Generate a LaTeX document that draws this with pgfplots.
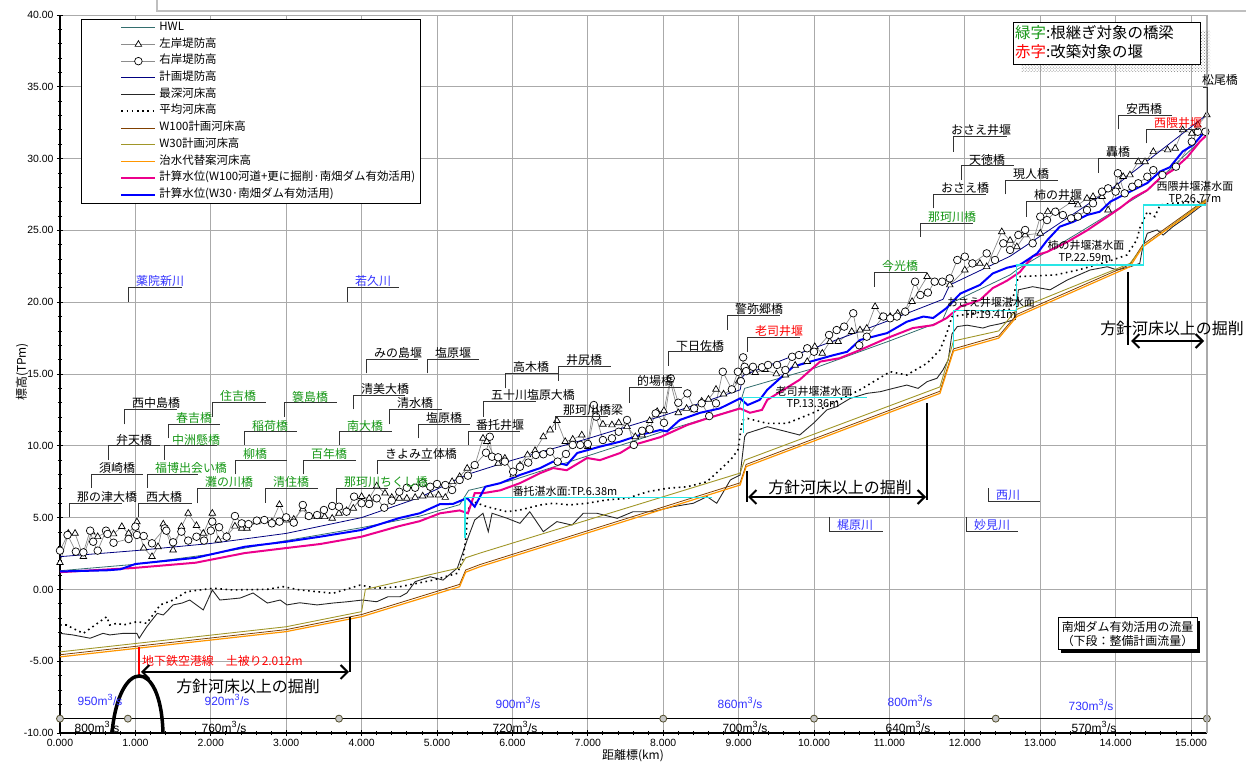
\documentclass[border=0pt]{standalone}
\usepackage{fontspec}
\setmainfont{Liberation Sans}
\newfontfamily\jp{Noto Sans CJK JP}
\usepackage{pgfplots}
\pgfplotsset{compat=1.18}
\usetikzlibrary{arrows.meta,patterns}
\definecolor{hwl}{RGB}{51,110,110}
\definecolor{navyc}{RGB}{0,0,128}
\definecolor{brownc}{RGB}{128,64,0}
\definecolor{olivec}{RGB}{160,150,40}
\definecolor{orangec}{RGB}{255,150,0}
\definecolor{cyanc}{RGB}{40,230,230}
\definecolor{greent}{RGB}{20,150,20}
\definecolor{bluet}{RGB}{50,50,255}
\definecolor{gridc}{RGB}{170,170,170}
\definecolor{bankc}{RGB}{140,140,140}
\newcommand{\blab}[7][8]{%
  \draw[black!80, line width=0.9] (#2,#5) -- (#2,#4) -- (#3,#4);
  \node[anchor=south west, inner sep=0pt, text=#6, font=\jp\fontsize{12}{12}\selectfont] at (#2+#1,#4-0.5) {#7};
}
\newcommand{\qlab}[4]{\node[text=#3, font=\fontsize{12}{12}\selectfont, inner sep=0pt] at (#1,#2) {#4m\textsuperscript{\fontsize{9}{9}\selectfont 3}/s};}
\begin{document}
\begin{tikzpicture}
\begin{axis}[
  scale only axis, width=1147bp, height=718bp,
  xmin=0, xmax=15.212, ymin=-10, ymax=40,
  clip=false,
  axis x line*=bottom, axis y line*=left,
  axis line style={black, line width=1.2bp},
  xtick={0,1,...,15}, ytick={-10,-5,...,40},
  minor x tick num=4, minor y tick num=4,
  tick align=center, major tick length=6bp, minor tick length=4bp,
  tick style={black, line width=0.8bp},
  grid=major, major grid style={gridc, line width=0.9bp},
  /pgf/number format/assume math mode=true,
  x tick label style={/pgf/number format/.cd, fixed, fixed zerofill, precision=3, /tikz/.cd, font=\fontsize{10.5}{12}\selectfont},
  y tick label style={/pgf/number format/.cd, fixed, fixed zerofill, precision=2, /tikz/.cd, font=\fontsize{10.5}{12}\selectfont},
  legend cell align=left,
  legend style={at={(axis description cs:0.0183,0.9944)}, anchor=north west,
    draw=black, line width=0.8bp, fill=white, inner xsep=2bp, inner ysep=0bp,
    font=\jp\fontsize{11.5}{11.5}\selectfont, row sep=0pt,
    nodes={inner ysep=0pt, inner xsep=3bp, text height=11bp, text depth=5.7bp}},
  legend image code/.code={\path (-37bp,0bp) (34bp,0bp);
    \draw[mark repeat=2,mark phase=2,#1] plot coordinates {(0bp,0bp) (17bp,0bp) (34bp,0bp)};},
]
% HWL
\addplot[hwl, line width=0.8bp] coordinates {
(0,1.30) (1,1.75) (2,2.45) (3,3.40) (4,4.30) (4.77,5.10) (5.3,5.9) (5.42,6.9) (6,7.6) (7,9.3) (8,11.0) (9.0,12.6) (9.08,14.0) (10,15.4) (11,17.3) (11.7,18.7) (11.8,19.9) (12.6,21.9) (12.7,22.3) (13.5,24.8) (14.4,27.7) (15.22,31.7)};
\addlegendentry{HWL}
% left bank
\addplot[bankc, line width=0.7bp, mark=triangle*, mark size=3.8bp, mark options={fill=white, draw=black, line width=0.7bp, solid}] coordinates {
(0.00,1.86) (0.11,3.90) (0.20,3.90) (0.31,2.28) (0.42,4.00) (0.50,3.67) (0.62,4.00) (0.71,3.86) (0.82,4.37) (0.91,3.90)
(1.02,4.70) (1.11,2.88) (1.22,2.28) (1.30,2.97) (1.37,4.55) (1.50,2.74) (1.61,4.37) (1.70,5.30) (1.81,4.44) (1.90,3.90)
(2.02,5.30) (2.10,3.44) (2.21,3.70) (2.32,4.40) (2.41,4.25) (2.48,4.25) (2.61,4.70) (2.71,4.80) (2.81,4.70) (2.91,5.90)
(3.00,4.83) (3.10,4.88) (3.22,5.60) (3.30,5.06) (3.41,5.06) (3.51,5.06) (3.61,4.95) (3.70,5.30) (3.80,5.48) (3.89,5.65)
(4.00,6.46) (4.10,6.34) (4.20,7.20) (4.31,6.70) (4.40,6.40) (4.50,6.34) (4.60,6.34) (4.71,6.40) (4.81,6.50) (4.91,6.57)
(5.02,6.57) (5.11,6.40) (5.20,7.50) (5.30,7.85) (5.40,8.43) (5.50,8.60) (5.61,10.52) (5.66,10.29) (5.81,8.78) (5.90,9.13)
(6.01,7.97) (6.10,8.66) (6.20,9.36) (6.30,9.66) (6.41,10.63) (6.50,11.10) (6.59,11.75) (6.70,10.29) (6.80,10.45) (6.92,10.75)
(7.00,9.94) (7.10,12.50) (7.20,11.50) (7.32,11.45) (7.41,11.60) (7.52,11.33) (7.63,10.63) (7.72,10.75) (7.82,11.75) (7.92,12.38)
(8.01,12.44) (8.09,14.58) (8.20,12.30) (8.31,12.60) (8.41,12.50) (8.51,13.10) (8.60,13.24) (8.70,13.93) (8.80,13.60) (8.91,13.90)
(9.00,14.50) (9.11,15.16) (9.22,15.10) (9.35,15.30) (9.50,15.00) (9.62,14.93) (9.75,15.60) (9.91,15.86) (10.01,16.90) (10.11,16.44)
(10.21,17.25) (10.32,17.25) (10.50,17.95) (10.61,18.06) (10.70,18.18) (10.81,19.69) (10.90,19.00) (11.01,19.00) (11.11,19.23) (11.21,19.34)
(11.30,20.04) (11.50,21.78) (11.80,21.20) (12.00,22.24) (12.11,22.70) (12.20,22.70) (12.29,22.47) (12.49,24.90) (12.60,24.30) (12.69,23.86)
(12.80,24.68) (13.00,24.80) (13.10,26.30) (13.22,26.30) (13.42,27.00) (13.50,26.77) (13.62,27.23) (13.70,27.35) (13.82,27.35) (13.90,26.42)
(14.02,28.04) (14.10,28.74) (14.19,28.86) (14.30,29.78) (14.39,29.78) (14.50,30.48) (14.69,30.60) (14.79,30.72) (14.89,32.00) (15.01,31.76)
(15.09,32.34) (15.21,33.04)};
\addlegendentry{左岸堤防高}
% right bank
\addplot[bankc, line width=0.7bp, mark=*, mark size=3.8bp, mark options={fill=white, draw=black, line width=0.7bp, solid}] coordinates {
(0.00,2.70) (0.10,3.79) (0.21,2.63) (0.31,2.58) (0.40,4.09) (0.44,3.32) (0.50,2.70) (0.61,4.09) (0.63,3.86) (0.71,3.25)
(0.91,3.51) (1.00,4.37) (1.02,3.79) (1.11,3.72) (1.22,3.21) (1.39,4.25) (1.41,4.09) (1.50,3.28) (1.61,4.02) (1.70,3.40)
(1.81,3.67) (1.91,3.40) (2.00,4.09) (2.02,4.72) (2.11,4.33) (2.21,3.67) (2.32,5.11) (2.41,4.60) (2.50,4.55) (2.61,4.79)
(2.71,4.83) (2.81,4.60) (2.91,4.72) (3.00,5.02) (3.10,4.65) (3.22,5.88) (3.30,5.11) (3.41,5.18) (3.50,5.53) (3.61,5.81)
(3.70,5.76) (3.80,5.41) (3.90,6.46) (4.00,6.00) (4.10,5.95) (4.20,6.34) (4.30,5.69) (4.40,6.18) (4.50,6.80) (4.60,7.08)
(4.71,7.08) (4.81,7.39) (4.91,7.15) (5.00,7.34) (5.11,7.27) (5.20,6.92) (5.30,7.62) (5.41,7.92) (5.50,8.66) (5.65,9.52)
(5.70,10.63) (5.73,9.24) (5.81,9.20) (5.90,8.90) (6.01,8.20) (6.10,8.54) (6.21,8.83) (6.31,9.36) (6.41,9.41) (6.50,9.59)
(6.60,8.90) (6.71,9.43) (6.80,10.06) (6.90,10.06) (7.00,10.13) (7.08,12.84) (7.11,12.03) (7.20,10.40) (7.32,10.52) (7.41,10.98)
(7.52,11.80) (7.61,10.06) (7.72,11.05) (7.82,11.15) (7.90,12.26) (8.01,11.60) (8.10,14.70) (8.20,13.00) (8.32,13.65) (8.41,12.60)
(8.51,12.96) (8.61,12.07) (8.70,12.96) (8.79,15.16) (8.91,13.93) (8.99,15.16) (9.03,14.50) (9.06,16.16) (9.08,15.50) (9.10,15.20)
(9.19,15.50) (9.31,15.47) (9.39,15.63) (9.51,15.63) (9.62,15.28) (9.71,16.20) (9.80,16.32) (9.91,16.79) (10.00,16.55) (10.20,17.72)
(10.30,18.06) (10.40,18.30) (10.52,19.23) (10.60,17.00) (10.70,17.60) (10.92,19.00) (11.01,18.88) (11.10,19.00) (11.21,19.34) (11.34,21.43)
(11.41,20.50) (11.51,20.67) (11.60,21.43) (11.70,21.43) (11.80,21.66) (11.90,22.94) (12.00,23.17) (12.10,22.70) (12.29,23.40) (12.40,22.94)
(12.51,24.10) (12.60,23.64) (12.71,24.68) (12.80,25.03) (12.90,24.10) (13.00,25.96) (13.09,25.72) (13.20,26.30) (13.30,26.07) (13.41,25.84)
(13.50,25.96) (13.62,26.42) (13.70,26.89) (13.82,27.70) (13.90,27.93) (14.00,27.70) (14.03,28.98) (14.12,27.58) (14.22,28.04) (14.30,28.28)
(14.42,28.74) (14.50,29.20) (14.62,28.86) (14.80,29.44) (15.01,31.18) (15.09,31.87) (15.19,31.87)};
\addlegendentry{右岸堤防高}
% planned levee
\addplot[navyc, line width=0.8bp] coordinates {
(0,2.28) (1,2.70) (2,3.20) (3,3.90) (4,5.00) (4.77,6.40) (5.4,8.0) (6,9.0) (7,10.5) (8,12.1) (9.02,13.9) (9.06,14.9) (9.81,16.44) (10.88,18.5) (11.71,20.2) (11.8,21.2) (12.6,23.2) (13.97,28.0) (15.22,33.1)};
\addlegendentry{計画堤防高}
% deepest bed
\addplot[black!85, line width=0.9bp] coordinates {
(0,-3.06) (0.17,-3.17) (0.40,-3.40) (0.57,-3.06) (0.66,-3.17) (0.84,-3.06) (1.02,-3.06) (1.05,-3.40) (1.15,-2.60) (1.29,-1.67)
(1.37,-1.78) (1.50,-1.08) (1.62,-0.95) (1.72,-0.74) (1.90,-1.43) (2.02,-0.04) (2.12,-0.74) (2.39,-0.60) (2.56,-0.25) (2.75,-0.95)
(2.92,-0.74) (3.01,-1.08) (3.18,-0.93) (3.41,-1.08) (3.62,-0.95) (3.81,-0.86) (4.01,-0.74) (4.20,-0.86) (4.35,-0.51) (4.51,-0.51)
(4.60,-0.25) (4.71,0.54) (4.91,0.88) (5.08,0.65) (5.27,1.49) (5.34,2.53) (5.40,3.44) (5.50,4.83) (5.61,5.30) (5.68,4.02)
(5.73,5.30) (5.93,4.95) (6.10,4.60) (6.23,5.41) (6.41,4.02) (6.59,4.72) (6.79,4.48) (6.94,5.30) (7.12,5.30) (7.39,4.95)
(7.60,5.41) (7.86,5.41) (8.13,5.76) (8.40,6.00) (8.58,6.46) (8.71,6.00) (8.89,7.62) (9.02,7.97) (9.08,10.63) (9.11,10.87)
(9.38,11.33) (9.55,11.10) (9.81,10.75) (9.99,11.56) (10.17,12.50) (10.30,12.73) (10.48,13.30) (10.70,13.65) (10.88,13.77) (11.05,14.00)
(11.23,14.23) (11.38,14.00) (11.50,14.47) (11.63,14.70) (11.71,15.28) (11.78,15.98) (11.83,17.80) (11.90,18.30) (12.03,18.40) (12.24,18.20)
(12.33,18.35) (12.47,18.50) (12.60,18.70) (12.67,18.80) (12.71,20.86) (12.90,21.08) (13.13,20.86) (13.36,21.55) (13.66,22.24) (13.89,22.47)
(14.02,22.24) (14.19,22.47) (14.32,22.70) (14.36,23.86) (14.42,24.80) (14.55,25.03) (14.63,24.68) (14.76,25.26) (14.95,25.96) (15.12,26.65) (15.22,27.00)};
\addlegendentry{最深河床高}
% mean bed
\addplot[black, line width=1.6bp, dash pattern=on 1.6bp off 3.6bp] coordinates {
(0,-2.48) (0.09,-2.48) (0.17,-2.71) (0.31,-3.06) (0.62,-1.90) (0.66,-2.48) (0.76,-2.36) (0.84,-2.48) (1.02,-2.25) (1.15,-2.36)
(1.33,-1.08) (1.50,-0.74) (1.68,-0.16) (2.03,0.08) (2.29,-0.04) (2.75,0.01) (2.96,0.19) (3.18,-0.04) (3.62,-0.27) (3.98,0.30)
(4.20,0.08) (4.51,0.19) (4.95,0.65) (5.27,1.12) (5.34,2.05) (5.38,3.40) (5.41,5.53) (5.48,6.11) (5.66,5.76) (5.93,5.41)
(6.10,5.53) (6.37,5.88) (6.54,6.00) (6.76,5.88) (6.99,6.00) (7.25,6.23) (7.52,6.34) (7.79,6.80) (8.05,7.04) (8.32,7.15)
(8.58,7.50) (8.89,9.00) (8.99,9.70) (9.05,11.80) (9.12,11.90) (9.38,11.56) (9.64,11.56) (9.99,12.30) (10.61,13.90) (11.01,15.16)
(11.23,14.93) (11.50,15.75) (11.67,16.67) (11.76,17.83) (11.83,19.00) (12.20,19.30) (12.60,19.50) (12.71,21.78) (13.20,21.90) (13.50,22.24)
(13.89,22.82) (14.15,23.29) (14.28,24.33) (14.32,25.15) (14.42,26.30) (14.52,25.96) (14.59,26.77) (14.76,26.89) (15.22,27.00)};
\addlegendentry{平均河床高}
% W100 planned bed
\addplot[brownc, line width=0.8bp] coordinates {
(0,-4.55) (3.0,-2.80) (4.0,-1.75) (5.3,0.35) (5.38,1.35) (5.57,1.73) (9.02,7.42) (9.10,8.70) (11.67,13.80) (11.85,16.75) (12.45,17.65) (12.69,19.15) (14.19,22.62) (14.36,24.01) (15.22,27.25)};
\addlegendentry{W100計画河床高}
% W30 planned bed
\addplot[olivec, line width=0.9bp] coordinates {
(0,-4.35) (3.0,-2.60) (4.0,-1.55) (4.05,0.0) (5.3,1.5) (5.38,2.2) (5.57,2.53) (9.02,8.1) (9.08,9.0) (11.67,14.1) (11.85,17.3) (12.45,18.0) (12.69,19.5) (14.19,22.7) (14.36,23.86) (15.22,27.2)};
\addlegendentry{W30計画河床高}
% alternative bed
\addplot[orangec, line width=1.2bp] coordinates {
(0,-4.70) (3.0,-2.94) (4.0,-1.90) (5.3,0.19) (5.38,1.20) (5.57,1.58) (9.02,7.27) (9.10,8.55) (11.67,13.65) (11.85,16.6) (12.45,17.5) (12.69,19.0) (14.19,22.47) (14.36,23.86) (15.22,27.1)};
\addlegendentry{治水代替案河床高}
% W100 computed WL
\addplot[magenta, line width=2bp] coordinates {
(0,1.20) (0.97,1.49) (1.8,1.86) (2.45,2.53) (3.0,2.88) (3.45,3.16) (4.0,3.67) (4.5,4.41) (4.77,4.75) (5.04,5.30)
(5.30,5.50) (5.41,5.30) (5.50,6.70) (5.61,6.70) (5.84,6.90) (6.10,7.40) (6.37,8.10) (6.54,8.45) (6.72,8.30) (6.99,9.15)
(7.16,9.00) (7.43,9.50) (7.60,10.05) (7.96,10.60) (8.32,11.45) (8.58,11.90) (9.02,12.60) (9.15,12.30) (9.31,12.50) (9.38,13.20)
(9.81,14.60) (10.08,15.86) (10.34,16.10) (10.61,16.67) (10.97,17.50) (11.31,18.20) (11.58,18.40) (11.76,18.90) (11.94,19.70) (12.20,20.15)
(12.37,20.98) (12.56,21.50) (12.73,22.10) (12.90,23.20) (13.09,23.50) (13.36,24.20) (13.62,25.00) (13.89,25.95) (14.06,26.56) (14.23,27.26)
(14.42,27.80) (14.59,28.65) (14.76,29.20) (14.95,30.10) (15.12,31.20) (15.22,31.70)};
\addlegendentry{計算水位(W100河道+更に掘削·南畑ダム有効活用)}
% W30 computed WL
\addplot[blue, line width=2bp] coordinates {
(0,1.25) (0.62,1.33) (0.80,1.40) (1.0,1.77) (1.8,2.20) (2.45,2.97) (3.0,3.32) (3.45,3.67) (4.0,4.14) (4.5,4.97)
(4.77,5.30) (5.04,5.94) (5.21,5.95) (5.40,6.36) (5.50,5.76) (5.64,7.15) (5.84,7.40) (6.10,7.97) (6.37,8.45) (6.54,8.90)
(6.72,8.66) (6.86,9.50) (7.16,9.94) (7.43,10.29) (7.69,10.75) (7.96,11.10) (8.05,11.00) (8.22,11.80) (8.49,12.30) (8.75,12.60)
(9.02,13.30) (9.12,12.84) (9.28,13.20) (9.38,13.90) (9.72,15.50) (9.95,15.86) (10.25,16.30) (10.44,16.55) (10.61,17.37) (10.97,17.85)
(11.23,18.64) (11.45,19.00) (11.58,18.90) (11.76,19.60) (11.94,20.60) (12.20,21.20) (12.37,22.00) (12.56,22.40) (12.73,22.60) (12.96,23.40)
(13.09,24.30) (13.26,25.26) (13.44,25.60) (13.62,26.07) (13.79,26.30) (13.93,27.00) (14.06,27.35) (14.23,27.80) (14.42,28.30) (14.59,29.10)
(14.72,29.40) (14.89,30.50) (15.03,30.95) (15.12,31.50) (15.22,32.10)};
\addlegendentry{計算水位(W30·南畑ダム有効活用)}
% ponded water surfaces
\addplot[cyanc, line width=1.2bp, forget plot] coordinates {(5.37,3.6) (5.37,6.38) (8.65,6.38)};
\addplot[cyanc, line width=1.2bp, forget plot] coordinates {(9.07,10.9) (9.07,13.36) (10.7,13.36)};
\addplot[cyanc, line width=1.2bp, forget plot] coordinates {(11.85,16.8) (11.85,19.41) (12.69,19.41) (12.69,22.59) (14.37,22.59) (14.37,26.77) (15.21,26.77)};
% discharge line
\addplot[black, line width=1bp, mark=*, mark size=3.5bp, mark options={fill=gray!45, draw=black!55!olive, line width=0.8bp}, forget plot] coordinates {
(0,-9) (0.9,-9) (3.7,-9) (8.0,-9) (10.0,-9) (12.41,-9) (15.21,-9)};
\end{axis}
\begin{scope}[x=1bp, y=-1bp, shift={(-60bp,733bp)}]
% frame right/top
\draw[gridc, line width=1.2bp] (1207,15) -- (1207,733);
\draw[gray!50, line width=1.5bp] (157,-4) -- (157,11) -- (1250,11);
% axis titles
\node[font=\jp\fontsize{12}{12}\selectfont, rotate=90, inner sep=0pt] at (22,372) {標高(TPm)};
\node[font=\jp\fontsize{12}{12}\selectfont, inner sep=0pt] at (633,756) {距離標(km)};
% bridge / weir labels
\blab{69}{122}{503.3}{516.7}{black}{那の津大橋}
\blab{138}{192}{503.3}{516.7}{black}{西大橋}
\blab{91}{143}{474.3}{488}{black}{須崎橋}
\blab{147}{198}{474.3}{488}{greent}{福博出会い橋}
\blab{108}{160}{445.7}{460}{black}{弁天橋}
\blab{164}{217}{445.7}{460}{greent}{中洲懸橋}
\blab{124}{177}{409.3}{424.3}{black}{西中島橋}
\blab{168}{220}{424.3}{438.3}{greent}{春吉橋}
\blab{212}{266}{402.7}{416.7}{greent}{住吉橋}
\blab{244}{297}{431.7}{445}{greent}{稲荷橋}
\blab{235}{287}{460}{474.3}{greent}{柳橋}
\blab{197}{250}{488.3}{503.3}{greent}{灘の川橋}
\blab{284}{337}{402.7}{416.7}{greent}{簑島橋}
\blab{303}{356}{460}{474.3}{greent}{百年橋}
\blab{265}{318}{488.3}{502.7}{greent}{清住橋}
\blab{353}{405}{395}{409.3}{black}{清美大橋}
\blab{339}{392}{431.7}{445}{greent}{南大橋}
\blab{389}{442}{409.3}{424.3}{black}{清水橋}
\blab{418}{470}{424.3}{438.3}{black}{塩原橋}
\blab{377}{430}{460}{474.3}{black}{きよみ立体橋}
\blab{336}{388}{488.3}{502.7}{greent}{那珂川ちくし橋}
\blab{128}{182}{287.7}{301.7}{bluet}{薬院新川}
\blab{347}{399}{287.7}{301.7}{bluet}{若久川}
\blab{366}{418}{359.3}{373.3}{black}{みの島堰}
\blab{427}{479}{359.3}{373.3}{black}{塩原堰}
\blab{505}{558}{373.3}{388.3}{black}{高木橋}
\blab{558}{611}{366}{380.7}{black}{井尻橋}
\blab{483}{536}{401.7}{416.7}{black}{五十川塩原大橋}
\blab{468}{520}{431}{445}{black}{番托井堰}
\blab{555}{608}{416.7}{430}{black}{那珂川橋梁}
\blab{629}{682}{387.7}{402.7}{black}{的場橋}
\blab{668}{722}{351.7}{366}{black}{下日佐橋}
\blab{747}{800}{337.7}{351.7}{red}{老司井堰}
\blab{727}{780}{315}{330}{black}{警弥郷橋}
\blab{829}{883}{531.7}{517.3}{bluet}{梶原川}
\blab{966}{1018}{531.7}{517.3}{bluet}{妙見川}
\blab{988}{1040}{501.7}{488.3}{bluet}{西川}
\blab{874}{927}{272.3}{287}{greent}{今光橋}
\blab{920}{973}{223.3}{236.7}{greent}{那珂川橋}
\blab{933}{986}{194.3}{208.3}{black}{おさえ橋}
\blab{961}{1014}{165.7}{180}{black}{天徳橋}
\blab[-2]{953}{1007}{136}{151.7}{black}{おさえ井堰}
\blab{1005}{1058}{180}{194.3}{black}{現人橋}
\blab{1026}{1079}{201}{216.7}{black}{柿の井堰}
\blab{1098}{1152}{158.3}{172.7}{black}{轟橋}
\blab{1118}{1172}{115}{129.3}{black}{安西橋}
\blab{1146}{1199}{129.3}{143.3}{red}{西隈井堰}
\draw[black!80, line width=0.9] (1207,113) -- (1207,87) -- (1203,87);
\node[anchor=south, inner sep=0pt, font=\jp\fontsize{12}{12}\selectfont] at (1220,86) {松尾橋};
% ponded surface notes
\begin{scope}[every node/.style={font=\jp\fontsize{11}{11}\selectfont, inner sep=0pt}]
\node at (565,491) {番托湛水面:TP.6.38m};
\node at (814,391) {老司井堰湛水面};
\node at (813,404) {TP.13.36m};
\node at (991,302) {おさえ井堰湛水面};
\node at (990,315) {TP.19.41m};
\node at (1086,245) {柿の井堰湛水面};
\node at (1085,258) {TP.22.59m};
\node at (1195,186) {西隈井堰湛水面};
\node at (1195,199) {TP.26.77m};
\end{scope}
% excavation arrows
\draw[red, line width=2bp] (139,647) -- (139,675);
\node[anchor=west, text=red, inner sep=0pt, font=\jp\fontsize{12}{12}\selectfont] at (142,661) {地下鉄空港線　土被り2.012m};
\draw[line width=2bp] (350,617) -- (350,672);
\draw[line width=2bp, {Straight Barb[length=7bp,width=14bp]}-{Straight Barb[length=7bp,width=14bp]}] (141,672) -- (349,672);
\node[inner sep=0pt, font=\jp\fontsize{16}{16}\selectfont] at (248,686) {方針河床以上の掘削};
\draw[line width=3.5bp] (112,733) .. controls (119,657) and (161,657) .. (163,733);
\draw[line width=2bp] (747,471) -- (747,502);
\draw[line width=2bp] (927,403) -- (927,500);
\draw[line width=2bp, {Straight Barb[length=7bp,width=14bp]}-{Straight Barb[length=7bp,width=14bp]}] (748,497) -- (926,497);
\node[inner sep=0pt, font=\jp\fontsize{16}{16}\selectfont] at (840,487) {方針河床以上の掘削};
\draw[line width=2bp] (1128,272) -- (1128,345);
\draw[line width=2bp, {Straight Barb[length=7bp,width=14bp]}-{Straight Barb[length=7bp,width=14bp]}] (1131,341) -- (1204,341);
\node[inner sep=0pt, font=\jp\fontsize{16}{16}\selectfont] at (1172,328) {方針河床以上の掘削};
% discharge labels
\qlab{100}{700}{bluet}{950}
\qlab{227}{700}{bluet}{920}
\qlab{518}{703}{bluet}{900}
\qlab{740}{703}{bluet}{860}
\qlab{910}{701}{bluet}{800}
\qlab{1091}{705}{bluet}{730}
\qlab{97}{727}{black}{800}
\qlab{224}{727}{black}{760}
\qlab{515}{727}{black}{720}
\qlab{745}{727}{black}{700}
\qlab{908}{727}{black}{640}
\qlab{1094}{727}{black}{570}
% color key box
\fill[pattern=crosshatch dots, pattern color=gray] (1021,31) rectangle (1210,72);
\draw[fill=white, line width=1bp] (1013,23) rectangle (1200,65);
\node[anchor=west, inner sep=0pt, font=\jp\fontsize{15.5}{15.5}\selectfont] at (1015,33) {\textcolor{greent}{緑字}:根継ぎ対象の橋梁};
\node[anchor=west, inner sep=0pt, font=\jp\fontsize{15.5}{15.5}\selectfont] at (1015,52) {\textcolor{red}{赤字}:改築対象の堰};
% flow note box
\fill[black] (1061,621) rectangle (1200,653);
\draw[fill=white, line width=1bp] (1058,618) rectangle (1197,650);
\node[inner sep=0pt, font=\jp\fontsize{12}{12}\selectfont] at (1127.5,627) {南畑ダム有効活用の流量};
\node[inner sep=0pt, font=\jp\fontsize{12}{12}\selectfont] at (1127.5,641) {（下段：整備計画流量）};
\pgfresetboundingbox
\useasboundingbox (0,0) rectangle (1246,765);
\end{scope}
\end{tikzpicture}
\end{document}
